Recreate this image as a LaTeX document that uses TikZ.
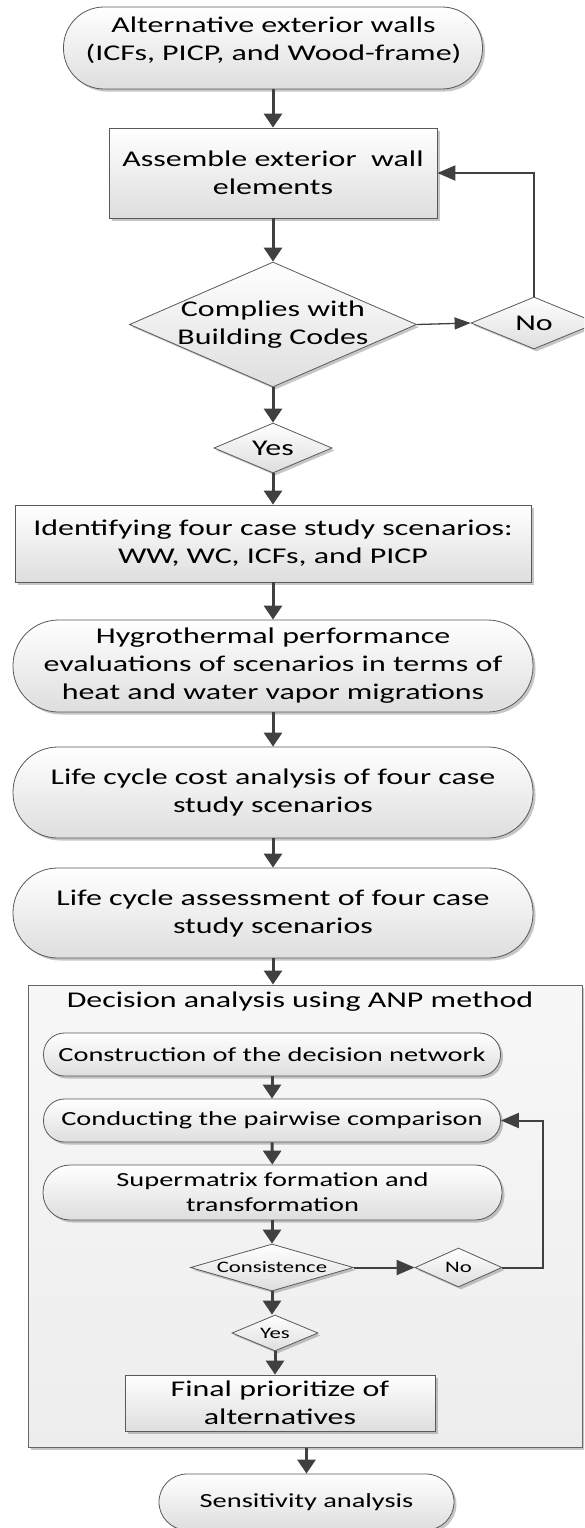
\documentclass[tikz,border=0pt]{standalone}
\usepackage{fontspec}
\setmainfont{Carlito}[FakeStretch=1.42]
\usetikzlibrary{shapes.geometric,arrows.meta,shadows}

\newcommand{\grossschrift}{\fontsize{22.5}{28}\selectfont}
\newcommand{\mittelschrift}{\fontsize{20}{25}\selectfont}
\newcommand{\kleinschrift}{\fontsize{16}{20}\selectfont}

\begin{document}
\begin{tikzpicture}[x=1pt, y=-1pt,
    every node/.style={align=center, inner sep=0pt, font=\grossschrift},
    kasten/.style={rectangle, draw=black!65, line width=0.8pt, top color=white, bottom color=black!13,
        drop shadow={shadow xshift=2.5pt, shadow yshift=-2.5pt, opacity=0.45, fill=black!50}},
    rund/.style={kasten, rounded corners=#1}, rund/.default=21pt,
    raute/.style={kasten, diamond},
    rahmen/.style={rectangle, draw=black!60, line width=1pt, top color=black!3, bottom color=black!7,
        drop shadow={shadow xshift=2.5pt, shadow yshift=-2.5pt, opacity=0.45, fill=black!50}},
    pfeil/.style={draw=black!75, line width=3pt, -{Triangle[length=14pt, width=18pt]}},
    rueck/.style={draw=black!75, line width=2pt, -{Triangle[length=18pt, width=15pt]}},
    duenn/.style={draw=black!75, line width=1.3pt, -{Triangle[length=16pt, width=12pt]}}]
    \useasboundingbox (0,0) rectangle (584,1528);
    \clip (0,0) rectangle (584,1528);

    % Ablauf oben
    \node[rund=40.5pt, minimum width=419pt, minimum height=82pt] (start) at (273,48) {};
    \node (starttext) at (273.5,40) {Alternative exterior walls\\(ICFs, PICP, and Wood-frame)};
    \node[kasten, minimum width=328pt, minimum height=90pt] (bauteile) at (273,173) {Assemble exterior\ \ wall\\elements};
    \node[raute, aspect=2.29, inner sep=-5pt, minimum width=287pt, minimum height=125pt] (codes) at (273,324.5) {Complies with\\Building Codes};
    \node[raute, aspect=2.4, minimum width=126pt, minimum height=52pt] (nein1) at (534,323) {No};
    \node[raute, aspect=2.36, minimum width=118pt, minimum height=50pt] (ja1) at (273,448) {Yes};
    \node[kasten, minimum width=516pt, minimum height=77pt] (szenarien) at (273,543.5) {Identifying four case study scenarios:\\WW, WC, ICFs, and PICP};
    \node[rund=45.5pt, minimum width=520pt, minimum height=92pt] (hygro) at (273,666) {Hygrothermal performance\\evaluations of scenarios in terms of\\heat and water vapor migrations};
    \node[rund=45pt, minimum width=520pt, minimum height=91pt] (lcc) at (273,792.5) {Life cycle cost analysis of four case\\study scenarios};
    \node[rund=44.5pt, minimum width=520pt, minimum height=90pt] (lca) at (273,913) {Life cycle assessment of four case\\study scenarios};

    % ANP-Rahmen
    \node[rahmen, minimum width=554pt, minimum height=462pt] (anp) at (305,1216) {};
    \node (anptitel) at (300,1002) {Decision analysis using ANP method};
    \node[rund=21pt, minimum width=457pt, minimum height=43pt, font=\mittelschrift] (netz) at (272,1054.5) {Construction of the decision network};
    \node[rund=21pt, minimum width=457pt, minimum height=43pt, font=\mittelschrift] (paar) at (272,1120.5) {Conducting the pairwise comparison};
    \node[rund=27pt, minimum width=459pt, minimum height=55pt, font=\mittelschrift] (supermatrix) at (272.5,1192.5) {Supermatrix formation and\\transformation};
    \node[raute, aspect=3.47, minimum width=163pt, minimum height=47pt, font=\kleinschrift] (konsistenz) at (272,1267.5) {Consistence};
    \node[raute, aspect=2.2, minimum width=87pt, minimum height=39pt, font=\kleinschrift] (nein2) at (458.5,1267.5) {No};
    \node[raute, aspect=2.4, minimum width=86pt, minimum height=36pt, font=\kleinschrift] (ja2) at (275,1333) {Yes};
    \node[kasten, minimum width=310pt, minimum height=56pt] (prioritaet) at (280,1403) {Final prioritize of\\alternatives};
    \coordinate (knick) at (543,1267.5);

    % Ende
    \node[rund=28pt, minimum width=295pt, minimum height=56pt, font=\mittelschrift] (sensitiv) at (306.5,1502) {Sensitivity analysis};

    % Pfeile oben
    \draw[pfeil] (start) to (bauteile);
    \draw[pfeil] (bauteile) to (codes);
    \draw[pfeil] (codes) to (ja1);
    \draw[pfeil] (ja1) to (szenarien);
    \draw[pfeil] (szenarien) to (hygro);
    \draw[pfeil] (hygro) to (lcc);
    \draw[pfeil] (lcc) to (lca);
    \draw[pfeil] (lca) to (lca |- anp.north);
    \draw[duenn] (codes.east) to (nein1.west);
    \draw[rueck] (nein1.north) |- (bauteile.east);

    % Pfeile im Rahmen
    \draw[pfeil] (netz) to (paar);
    \draw[pfeil] (paar) to (supermatrix);
    \draw[pfeil] (supermatrix.south -| konsistenz.north) to (konsistenz.north);
    \draw[pfeil] (konsistenz.south) to (konsistenz.south |- ja2.north);
    \draw[pfeil] (ja2.south) to (ja2.south |- prioritaet.north);
    \draw[rueck] (konsistenz.east) to (nein2.west);
    \draw[rueck] (nein2.east) -- (knick) |- (paar.east);
    \draw[pfeil] (anp.south -| sensitiv.north) to (sensitiv.north);
\end{tikzpicture}
\end{document}
